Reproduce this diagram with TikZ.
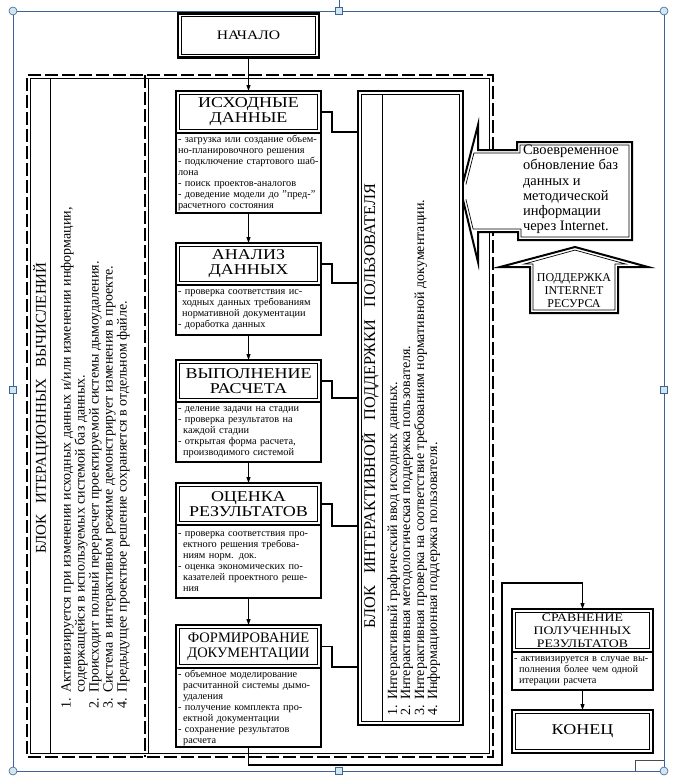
\documentclass[tikz,border=0pt]{standalone}
\usepackage{fontspec}
\setmainfont{Liberation Serif}
\newfontfamily\widefont{Liberation Serif}[FakeStretch=1.2]
\usetikzlibrary{arrows.meta,calc}
\definecolor{selblue}{RGB}{62,100,150}
\definecolor{handlefill}{RGB}{208,230,240}
\newcommand{\innerbox}[1]{\draw[line width=0.7pt] ([shift={(3.3pt,-3.3pt)}]#1.north west) rectangle ([shift={(-3.3pt,3.3pt)}]#1.south east);}
\begin{document}
\begin{tikzpicture}[x=1pt,y=-1pt,
  every node/.style={inner sep=0pt, outer sep=0pt},
  ttl/.style={draw, line width=2.2pt, minimum width=145pt, align=center, font=\widefont\fontsize{15}{15}\selectfont},
  txt/.style={draw, line width=1.1pt, text width=141pt, inner xsep=2pt, align=left, anchor=north, font=\fontsize{10.3}{11}\selectfont},
  conn/.style={line width=1.1pt},
  arr/.style={line width=1.1pt, -{Triangle[length=6pt,width=4pt]}},
  dashfr/.style={line width=2.6pt, dash pattern=on 13pt off 4pt},
  thinfr/.style={line width=0.7pt},
  vtitle/.style={rotate=90, font=\fontsize{15}{15}\selectfont},
  vlist/.style={rotate=90, anchor=north west, align=left},
  handle/.style={selblue, fill=handlefill, line width=0.6pt},
]
\useasboundingbox (0,0) rectangle (680,782);
\fill[white] (0,0) rectangle (680,782);

% selection frame
\draw[selblue, line width=0.8pt] (13,11) rectangle (664,771);
\draw[selblue, line width=0.8pt] (339,11) -- (339,0);

% big dashed frame
\draw[dashfr] (493,150) -- (493,75) -- (27,75) -- (27,757) -- (493,757) -- (493,232);
\draw[thinfr] (489.5,150) -- (489.5,78.5) -- (30.5,78.5) -- (30.5,753.5) -- (489.5,753.5) -- (489.5,232);
\draw[dashfr] (145,75) -- (145,757);
\draw[thinfr] (148.5,78.5) -- (148.5,753.5);
\draw[thinfr] (50,78.5) -- (50,753.5);

% left block texts
\node[vtitle] (lbt) at (41,408) {БЛОК\hspace{0.5em} ИТЕРАЦИОННЫХ\hspace{0.5em} ВЫЧИСЛЕНИЙ};
\node[vlist, font=\fontsize{14}{14}\selectfont] (lbl) at (61,708) {1. Активизируется при изменении исходных данных и/или изменении информации,\\
\hspace*{1.1em}содержащейся в используемых системой баз данных.\\
2. Происходит полный перерасчет проектируемой системы дымоудаления.\\
3. Система в интерактивном режиме демонстрирует изменения в проекте.\\
4. Предыдущее проектное решение сохраняется в отдельном файле.};

% start
\node[ttl, minimum width=141pt, minimum height=44pt, font=\widefont\fontsize{13}{14}\selectfont] (start) at (248.5,35.5) {НАЧАЛО};
\innerbox{start}

% center column
\node[ttl, minimum height=42pt] (n1) at (248.5,112) {ИСХОДНЫЕ\\ДАННЫЕ};
\innerbox{n1}
\node[txt, minimum height=80pt] (t1) at (n1.south) {- загрузка или создание объем-\\но-планировочного решения\\- подключение стартового шаб-\\лона\\- поиск проектов-аналогов\\- доведение модели до "пред-"\\расчетного состояния};

\node[ttl, minimum height=42pt] (n2) at (248.5,264) {АНАЛИЗ\\ДАННЫХ};
\innerbox{n2}
\node[txt, minimum height=50pt] (t2) at (n2.south) {- проверка соответствия ис-\\\hspace*{0.4em}ходных данных требованиям\\\hspace*{0.4em}нормативной документации\\- доработка данных};

\node[ttl, minimum height=42pt] (n3) at (248.5,381) {ВЫПОЛНЕНИЕ\\РАСЧЕТА};
\innerbox{n3}
\node[txt, minimum height=60pt] (t3) at (n3.south) {- деление задачи на стадии\\- проверка результатов на\\\hspace*{0.5em}каждой стадии\\- открытая форма расчета,\\\hspace*{0.5em}производимого системой};

\node[ttl, minimum height=42pt] (n4) at (248.5,504) {ОЦЕНКА\\РЕЗУЛЬТАТОВ};
\innerbox{n4}
\node[txt, minimum height=73pt] (t4) at (n4.south) {- проверка соответствия про-\\\hspace*{0.5em}ектного решения требова-\\\hspace*{0.5em}ниям норм. док.\\- оценка экономических по-\\\hspace*{0.5em}казателей проектного реше-\\\hspace*{0.5em}ния};

\node[ttl, minimum height=43pt, font=\fontsize{14.5}{15}\selectfont] (n5) at (248.5,646.5) {ФОРМИРОВАНИЕ\\ДОКУМЕНТАЦИИ};
\innerbox{n5}
\node[txt, minimum height=79pt] (t5) at (n5.south) {- объемное моделирование\\\hspace*{0.5em}расчитанной системы дымо-\\\hspace*{0.5em}удаления\\- получение комплекта про-\\\hspace*{0.5em}ектной документации\\- сохранение результатов\\\hspace*{0.5em}расчета};

\draw[arr] (start.south) -- (n1.north);
\draw[arr] (t1.south) -- (n2.north);
\draw[arr] (t2.south) -- (n3.north);
\draw[arr] (t3.south) -- (n4.north);
\draw[arr] (t4.south) -- (n5.north);

% interactive block
\node[draw, line width=2.2pt, minimum width=105pt, minimum height=634pt] (ib) at (410.5,408) {};
\innerbox{ib}
\draw[line width=0.9pt] ([shift={(24pt,-3.3pt)}]ib.north west) -- ([shift={(24pt,3.3pt)}]ib.south west);
\node[vtitle, font=\fontsize{16.3}{16}\selectfont] (ibt) at (370,406) {БЛОК\hspace{0.5em} ИНТЕРАКТИВНОЙ\hspace{0.5em} ПОДДЕРЖКИ\hspace{0.5em} ПОЛЬЗОВАТЕЛЯ};
\node[vlist, font=\fontsize{14}{13}\selectfont] (ibl) at (387.5,715) {1. Интерактивный графический ввод исходных данных.\\
2. Интерактивная методологическая поддержка пользователя.\\
3. Интерактивная проверка на соответствие требованиям нормативной документации.\\
4. Информационная поддержка пользователя.};

\draw[conn] (n1.east) -- ++(11,0) |- (ib.west |- 0,132);
\draw[conn] (n2.east) -- ++(11,0) |- (ib.west |- 0,283);
\draw[conn] (n3.east) -- ++(11,0) |- (ib.west |- 0,398);
\draw[conn] (n4.east) -- ++(11,0) |- (ib.west |- 0,526);
\draw[conn] (n5.east) -- ++(11,0) |- (ib.west |- 0,667);

% internet arrow (left-pointing, body = text box)
\draw[line width=2pt, line join=miter] (463,183) -- (478,125) -- (478,150) -- (517,150) -- (517,142) -- (632,142) -- (632,240) -- (518,240) -- (518,232) -- (478,232) -- (478,262) -- (463,200);
\draw[line width=0.7pt] (465.9,184.5) -- (473.9,153) -- (520,153) -- (520,145) -- (629,145) -- (629,237) -- (521,237) -- (521,229) -- (473.1,229) -- (465.9,199.3);
\node[anchor=north west, align=left, font=\fontsize{14.5}{15.2}\selectfont] (inet) at (523,145) {Своевременное\\обновление баз\\данных и\\методической\\информации\\через Internet.};

% up arrow
\draw[line width=2pt, line join=miter] (575,247) -- (648,267) -- (618,267) -- (618,313) -- (530,313) -- (530,267) -- (500,267) -- cycle;
\draw[line width=0.7pt] (575,250.1) -- (625.7,264) -- (615,264) -- (615,310) -- (533,310) -- (533,264) -- (524.3,264) -- cycle;
\node[align=center, font=\fontsize{12}{13}\selectfont] (isup) at (574,291) {ПОДДЕРЖКА\\INTERNET\\РЕСУРСА};

% comparison and end
\node[ttl, minimum width=141pt, minimum height=43pt, font=\widefont\fontsize{11.5}{13}\selectfont] (cmp) at (582.5,630.5) {СРАВНЕНИЕ\\ПОЛУЧЕННЫХ\\РЕЗУЛЬТАТОВ};
\innerbox{cmp}
\node[txt, text width=137pt, minimum height=38pt] (cmpt) at (cmp.south) {- активизируется в случае вы-\\\hspace*{0.5em}полнения более чем одной\\\hspace*{0.5em}итерации расчета};
\node[ttl, minimum width=141pt, minimum height=43pt, font=\widefont\fontsize{15}{15}\selectfont] (end) at (582.5,731.5) {КОНЕЦ};
\innerbox{end}
\draw[arr] (cmpt.south) -- (end.north);
\draw[arr] (t5.south) -- ++(0,18) -| (502,583) -| (cmp.north);

% small corner mark
\draw[line width=0.8pt, black!70] (635,771) -- (635,760) -- (664,760);

% handles
\foreach \p in {(13,11),(664,11),(13,771),(664,771)} \draw[handle] \p circle[radius=4pt];
\foreach \p in {(339,11),(13,390),(664,390),(339,771)} \draw[handle] \p ++(-3.5,-3.5) rectangle ++(7,7);
\end{tikzpicture}
\end{document}
